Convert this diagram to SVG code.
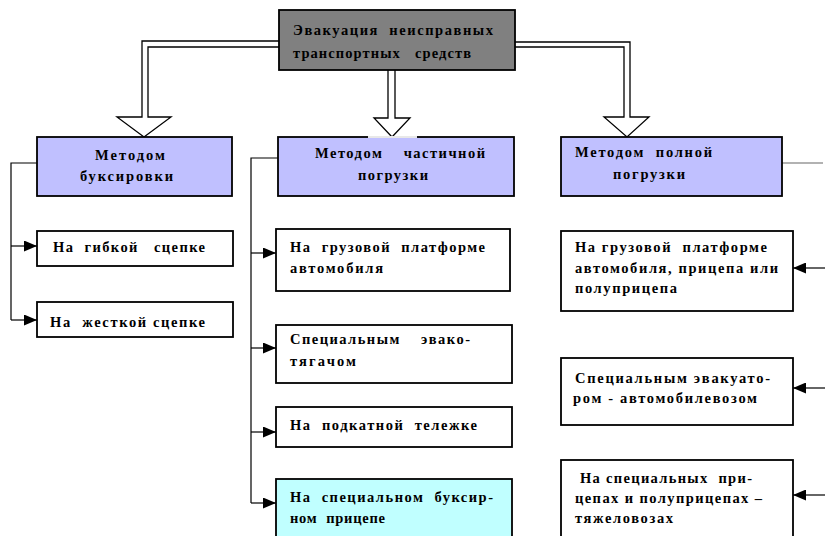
<svg xmlns="http://www.w3.org/2000/svg" width="825" height="536" viewBox="0 0 825 536">
<style>
  .t { font-family: "Liberation Serif", "Times New Roman", serif; font-weight: bold; font-size: 14.5px; fill: #000; white-space: pre; }
  .box { stroke: #000; stroke-width: 1.8; }
  .white { fill: #fff; }
  .blue { fill: #C0C0FF; }
  .cyan { fill: #C0FFFF; }
  .gray { fill: #808080; }
  .bigarrow { fill: #fff; stroke: #000; stroke-width: 1.3; stroke-linejoin: miter; }
  .conn { fill: none; stroke: #000; stroke-width: 1.2; }
</style>
<defs>
  <marker id="ah" markerUnits="userSpaceOnUse" markerWidth="13" markerHeight="11" refX="13" refY="5.5" orient="auto">
    <path d="M0,0 L13,5.5 L0,11 z" fill="#000"/>
  </marker>
</defs>

<g id="connectors">
  <path class="bigarrow" d="M279,41 H142 V117 H117 L144,137 L171,117 H148 V47 H279"/>
  <path class="bigarrow" d="M388,70 V118 H374 L392,137 L410,118 H395 V70"/>
  <path class="bigarrow" d="M515,42 H630 V117 H649 L627,137 L604,117 H624 V47 H515"/>
  <path class="conn" d="M37,163 H11 V320"/>
  <path class="conn" d="M11,246 H37" marker-end="url(#ah)"/>
  <path class="conn" d="M11,320 H37" marker-end="url(#ah)"/>
  <path class="conn" d="M278,158 H251 V503"/>
  <path class="conn" d="M251,253 H276" marker-end="url(#ah)"/>
  <path class="conn" d="M251,348 H276" marker-end="url(#ah)"/>
  <path class="conn" d="M251,432 H276" marker-end="url(#ah)"/>
  <path class="conn" d="M251,503 H276" marker-end="url(#ah)"/>
  <path class="conn" d="M825,268 H793" marker-end="url(#ah)"/>
  <path class="conn" d="M825,388 H793" marker-end="url(#ah)"/>
  <path class="conn" d="M825,495 H793" marker-end="url(#ah)"/>
  <path d="M782,163 H823" fill="none" stroke="#999" stroke-width="1.5"/>
</g>

<g id="root">
  <rect class="box gray" x="279" y="10" width="236" height="60"/>
  <text class="t" x="293" y="35" textLength="200" lengthAdjust="spacing">Эвакуация  неисправных</text>
  <text class="t" x="293" y="58" textLength="178" lengthAdjust="spacing">транспортных   средств</text>
</g>

<g id="m1">
  <rect class="box blue" x="37" y="137" width="195" height="59"/>
  <text class="t" x="95" y="160" textLength="70" lengthAdjust="spacing">Методом</text>
  <text class="t" x="80" y="181" textLength="93" lengthAdjust="spacing">буксировки</text>
</g>
<g id="m2">
  <rect class="box blue" x="278" y="137" width="236" height="59"/>
  <path d="M368,137 H417" stroke="#e8e8e8" stroke-width="1.8"/>
  <text class="t" x="315" y="158" textLength="170" lengthAdjust="spacing">Методом    частичной</text>
  <text class="t" x="358" y="180" textLength="70" lengthAdjust="spacing">погрузки</text>
</g>
<g id="m3">
  <rect class="box blue" x="561" y="137" width="221" height="59"/>
  <text class="t" x="575" y="157" textLength="137" lengthAdjust="spacing">Методом  полной</text>
  <text class="t" x="613" y="179" textLength="72" lengthAdjust="spacing">погрузки</text>
</g>

<g id="c11">
  <rect class="box white" x="37" y="231" width="196" height="35"/>
  <text class="t" x="53" y="252" textLength="152" lengthAdjust="spacing">На  гибкой   сцепке</text>
</g>
<g id="c12">
  <rect class="box white" x="37" y="302" width="196" height="35"/>
  <text class="t" x="50" y="327" textLength="155" lengthAdjust="spacing">На  жесткой сцепке</text>
</g>

<g id="c21">
  <rect class="box white" x="276" y="229" width="234" height="62"/>
  <text class="t" x="290" y="252" textLength="195" lengthAdjust="spacing">На  грузовой  платформе</text>
  <text class="t" x="290" y="273" textLength="93" lengthAdjust="spacing">автомобиля</text>
</g>
<g id="c22">
  <rect class="box white" x="276" y="325" width="236" height="58"/>
  <text class="t" x="290" y="344" textLength="180" lengthAdjust="spacing">Специальным    эвако-</text>
  <text class="t" x="290" y="366" textLength="66" lengthAdjust="spacing">тягачом</text>
</g>
<g id="c23">
  <rect class="box white" x="276" y="407" width="236" height="40"/>
  <text class="t" x="290" y="430" textLength="187" lengthAdjust="spacing">На  подкатной  тележке</text>
</g>
<g id="c24">
  <rect class="box cyan" x="276" y="479" width="236" height="70"/>
  <text class="t" x="290" y="502" textLength="203" lengthAdjust="spacing">На  специальном  буксир-</text>
  <text class="t" x="290" y="523" textLength="95" lengthAdjust="spacing">ном  прицепе</text>
</g>

<g id="c31">
  <rect class="box white" x="561" y="231" width="232" height="80"/>
  <text class="t" x="575" y="252" textLength="192" lengthAdjust="spacing">На грузовой  платформе</text>
  <text class="t" x="575" y="273" textLength="203" lengthAdjust="spacing">автомобиля, прицепа или</text>
  <text class="t" x="575" y="293" textLength="102" lengthAdjust="spacing">полуприцепа</text>
</g>
<g id="c32">
  <rect class="box white" x="561" y="358" width="232" height="67"/>
  <text class="t" x="575" y="383" textLength="195" lengthAdjust="spacing">Специальным эвакуато-</text>
  <text class="t" x="573" y="403" textLength="184" lengthAdjust="spacing">ром - автомобилевозом</text>
</g>
<g id="c33">
  <rect class="box white" x="561" y="460" width="232" height="90"/>
  <text class="t" x="580" y="483" textLength="172" lengthAdjust="spacing">На специальных  при-</text>
  <text class="t" x="575" y="503" textLength="187" lengthAdjust="spacing">цепах и полуприцепах –</text>
  <text class="t" x="575" y="523" textLength="98" lengthAdjust="spacing">тяжеловозах</text>
</g>
</svg>
